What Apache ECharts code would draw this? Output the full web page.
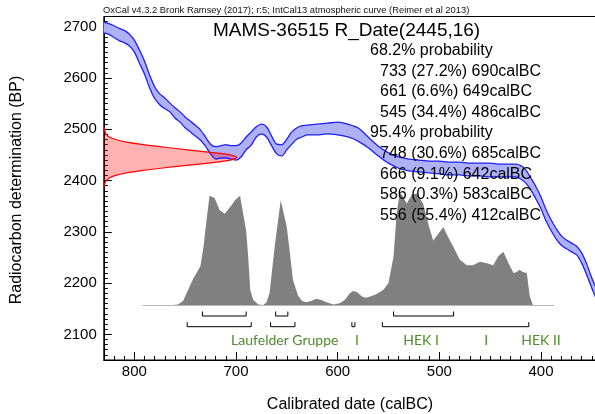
<!DOCTYPE html>
<html>
<head>
<meta charset="utf-8">
<title>MAMS-36515 R_Date(2445,16)</title>
<style>
    html,body{margin:0;padding:0;background:#fff;}
</style>
</head>
<body>
<div id="main" style="width:595px;height:414px;"></div>
<script src="https://cdn.jsdelivr.net/npm/echarts@6/dist/echarts.min.js"></script>
<script>
// IntCal13 1-sigma band (calBC -> BP)
var bandYears = [830,825,820,815,810,805,800,795,790,785,780,775,770,765,760,755,750,745,740,735,
    730,725,720,715,710,705,700,695,690,685,680,675,670,665,660,655,650,645,640,635,630,
    620,610,600,590,580,570,560,550,540,530,520,510,500,490,480,470,460,450,440,430,
    425,420,415,410,405,400,395,390,385,380,375,370,365,360,355,350,345,340];
var bandUpper = [2709,2706,2702,2697,2693,2686,2674,2655,2633,2606,2583,2569,2561,2551,2542,2534,2524,2516,2508,2499,
    2485,2471,2466,2468,2470,2468,2468,2473,2485,2495,2505,2510,2505,2487,2471,2470,2481,2495,2503,2507,2508,
    2510,2512,2514,2510,2503,2485,2467,2454,2446,2442,2440,2438,2438,2436,2436,2434,2434,2434,2432,2432,
    2432,2429,2421,2405,2388,2368,2343,2323,2306,2292,2284,2278,2272,2259,2237,2210,2187,2167];
var bandLower = [2688,2685,2679,2673,2669,2663,2651,2629,2608,2581,2560,2548,2540,2534,2522,2514,2503,2495,2487,2479,
    2467,2452,2442,2444,2444,2442,2440,2446,2460,2469,2485,2491,2485,2468,2452,2448,2460,2471,2481,2485,2489,
    2489,2491,2489,2485,2477,2464,2448,2434,2424,2419,2417,2415,2413,2411,2411,2409,2409,2407,2407,2407,
    2407,2403,2395,2382,2364,2345,2321,2302,2286,2274,2267,2261,2255,2239,2216,2190,2167,2148];

// radiocarbon measurement (relative likelihood against BP)
var dateBP = [2505,2500,2495,2490,2485,2480,2475,2470,2465,2460,2455,2450,2445,
    2440,2435,2430,2425,2420,2415,2410,2405,2400,2395,2390,2385];
var dateProb = [0,0.005,0.01,0.02,0.04,0.09,0.17,0.3,0.46,0.63,0.8,0.95,1,
    0.95,0.82,0.64,0.46,0.3,0.17,0.09,0.04,0.02,0.008,0.003,0];

// calibrated distribution
var calYears = [792,785,765,757,752,747,742,737,735,732,729,726,721,716,711,704,701,696,690,688,
    686,683,678,673,670,667,662,656,650,647,644,639,635,631,626,621,616,611,604,598,
    593,588,585,581,576,572,568,562,555,550,545,542,539,537,532,527,522,516,510,506,
    501,496,493,486,480,473,467,460,454,447,442,437,432,427,424,421,418,414,411,408,387];
var calProb = [0,0,0.003,0.01,0.04,0.14,0.24,0.32,0.35,0.52,0.76,0.98,0.96,0.85,0.82,0.9,0.94,0.98,0.67,0.44,
    0.14,0.05,0.01,0.004,0.03,0.11,0.52,0.94,0.7,0.47,0.23,0.09,0.04,0.03,0.04,0.06,0.05,0.03,0.01,0.02,
    0.05,0.11,0.13,0.12,0.08,0.07,0.08,0.1,0.14,0.2,0.44,0.82,1,0.99,0.91,0.99,1,0.91,0.7,0.58,
    0.64,0.7,0.64,0.52,0.41,0.36,0.36,0.39,0.38,0.36,0.44,0.48,0.38,0.29,0.3,0.32,0.3,0.29,0.08,0.004,0];

// ranges [from, to, percent]
var ranges68 = [[733,690,27.2],[661,649,6.6],[545,486,34.4]];
var ranges95 = [[748,685,30.6],[666,642,9.1],[586,583,0.3],[556,412,55.4]];

var periodNames = ['Laufelder Gruppe','I','HEK I','I','HEK II'];
var periodYears = [652,581,518,454,400];

var xLabels = [800,700,600,500,400];
var yLabels = [2100,2200,2300,2400,2500,2600,2700];

var FONT = '"Liberation Sans", Arial, sans-serif';
var GRID_W = 498.2, GRID_H = 343.5;

var myChart = echarts.init(document.getElementById('main'));

var textLines = ['68.2% probability'];
ranges68.forEach(function (r) { textLines.push(r[0] + ' (' + r[2] + '%) ' + r[1] + 'calBC'); });
textLines.push('95.4% probability');
ranges95.forEach(function (r) { textLines.push(r[0] + ' (' + r[2] + '%) ' + r[1] + 'calBC'); });

var graphics = [
    {type: 'text', x: 103, y: 10.5, style: {text: 'OxCal v4.3.2 Bronk Ramsey (2017); r:5; IntCal13 atmospheric curve (Reimer et al 2013)',
        font: '9.4px ' + FONT, fill: '#111', verticalAlign: 'middle'}},
    {type: 'text', x: 213, y: 31, style: {text: 'MAMS-36515 R_Date(2445,16)', font: '19px ' + FONT, fill: '#000', verticalAlign: 'middle'}},
    {type: 'text', x: 350, y: 405, style: {text: 'Calibrated date (calBC)', font: '16px ' + FONT, fill: '#000', align: 'center', verticalAlign: 'middle'}},
    {type: 'text', x: 17, y: 190, rotation: Math.PI / 2, style: {text: 'Radiocarbon determination (BP)', font: '16px ' + FONT, fill: '#000', align: 'center', verticalAlign: 'middle'}}
];
textLines.forEach(function (t, i) {
    var head = t.indexOf('probability') > 0;
    graphics.push({type: 'text', x: head ? 370 : 380, y: 50.5 + i * 20.6, z: 100,
        style: {text: t, font: '16px ' + FONT, fill: '#000', verticalAlign: 'middle'}});
});

var bracketData = [];
ranges68.forEach(function (r) { bracketData.push([r[0], r[1], 0]); });
ranges95.forEach(function (r) { bracketData.push([r[0], r[1], 1]); });

var periodData = periodYears.map(function (y, i) { return [y, 0, periodNames[i]]; });

function plain(v) { return String(v); }

myChart.setOption({
    animation: false,
    grid: {left: 103.8, right: -7, top: 16.5, bottom: 54, outerBoundsMode: 'none', containLabel: false,
        show: true, borderColor: '#000', borderWidth: 1},
    xAxis: [
        // labels + long ticks at the hundreds
        {type: 'value', position: 'bottom', inverse: true, min: 340, max: 830,
            axisLine: {show: true, onZero: false, lineStyle: {color: '#000'}},
            axisTick: {show: true, inside: true, length: 8, customValues: xLabels, lineStyle: {color: '#000', width: 1}},
            axisLabel: {show: true, customValues: xLabels, formatter: plain, color: '#000', fontSize: 15, fontFamily: FONT, margin: 4},
            splitLine: {show: false}},
        // short ticks every 10 years (top axis moved down onto the bottom line)
        {type: 'value', position: 'top', offset: -GRID_H, inverse: true, min: 340, max: 830, interval: 10,
            axisLine: {show: false, onZero: false},
            axisTick: {show: true, inside: false, length: 4, lineStyle: {color: '#000', width: 1}},
            axisLabel: {show: false}, splitLine: {show: false}},
        // likelihood scale of the measurement
        {type: 'value', position: 'top', min: 0, max: 3.75, show: false}
    ],
    yAxis: [
        {type: 'value', position: 'left', min: 2050, max: 2720,
            axisLine: {show: true, onZero: false, lineStyle: {color: '#000'}},
            axisTick: {show: true, inside: true, length: 8, customValues: yLabels, lineStyle: {color: '#000', width: 1}},
            axisLabel: {show: true, customValues: yLabels, formatter: plain, color: '#000', fontSize: 15, fontFamily: FONT, margin: 7},
            splitLine: {show: false}},
        // short ticks every 10 BP (right axis moved onto the left line)
        {type: 'value', position: 'right', offset: -GRID_W, min: 2050, max: 2720, interval: 10,
            axisLine: {show: false, onZero: false},
            axisTick: {show: true, inside: false, length: 4, lineStyle: {color: '#000', width: 1}},
            axisLabel: {show: false}, splitLine: {show: false}},
        // probability scale of the calibrated distribution
        {type: 'value', position: 'right', min: -0.4866, max: 2.5804, show: false}
    ],
    series: [
        {
            type: 'custom', xAxisIndex: 0, yAxisIndex: 0, silent: true,
            data: [[bandYears[0], bandUpper[0]]],
            renderItem: function (params, api) {
                var pts = [];
                for (var i = 0; i < bandYears.length; i++) pts.push(api.coord([bandYears[i], bandUpper[i]]));
                for (var j = bandYears.length - 1; j >= 0; j--) pts.push(api.coord([bandYears[j], bandLower[j]]));
                return {type: 'polygon', shape: {points: pts}, style: {fill: '#aeb1f6'}};
            }
        },
        {type: 'line', xAxisIndex: 0, yAxisIndex: 0, symbol: 'none', smooth: 0.3,
            lineStyle: {color: '#1f1fff', width: 1.3},
            data: bandYears.map(function (y, i) { return [y, bandUpper[i]]; })},
        {type: 'line', xAxisIndex: 0, yAxisIndex: 0, symbol: 'none', smooth: 0.3,
            lineStyle: {color: '#1f1fff', width: 1.3},
            data: bandYears.map(function (y, i) { return [y, bandLower[i]]; })},
        {
            type: 'custom', xAxisIndex: 2, yAxisIndex: 0, silent: true,
            data: [[dateProb[0], dateBP[0]]],
            renderItem: function (params, api) {
                var pts = dateBP.map(function (b, i) { return api.coord([dateProb[i], b]); });
                return {type: 'polygon', shape: {points: pts, smooth: 0.3}, style: {fill: 'rgba(255,0,0,0.3)'}};
            }
        },
        {type: 'line', xAxisIndex: 2, yAxisIndex: 0, symbol: 'none', smooth: 0.3,
            lineStyle: {color: '#ff0000', width: 1.2},
            data: dateBP.map(function (b, i) { return [dateProb[i], b]; })},
        {type: 'line', xAxisIndex: 0, yAxisIndex: 2, symbol: 'none',
            lineStyle: {width: 0},
            areaStyle: {color: '#808080', opacity: 1, origin: 0},
            data: calYears.map(function (y, i) { return [y, calProb[i]]; })},
        {type: 'line', xAxisIndex: 0, yAxisIndex: 2, symbol: 'none',
            lineStyle: {color: '#b8b8b8', width: 1},
            data: [[calYears[0], 0], [calYears[calYears.length - 1], 0]]},
        {
            type: 'custom', xAxisIndex: 0, yAxisIndex: 2, silent: true,
            data: bracketData,
            renderItem: function (params, api) {
                var a = api.coord([api.value(0), 0]);
                var b = api.coord([api.value(1), 0]);
                var y = a[1] + (api.value(2) === 0 ? 10.5 : 21.2);
                return {type: 'polyline', shape: {points: [[a[0], y - 4.5], [a[0], y], [b[0], y], [b[0], y - 4.5]]},
                    style: {stroke: '#000', lineWidth: 1, fill: null}};
            }
        },
        {
            type: 'custom', xAxisIndex: 0, yAxisIndex: 2, silent: true,
            data: periodData,
            renderItem: function (params, api) {
                var p = api.coord([api.value(0), 0]);
                return {type: 'text', x: p[0], y: p[1] + 34.5,
                    style: {text: periodNames[params.dataIndex], font: '14px Lato, "Open Sans", sans-serif', fill: '#4e8b2a',
                        align: 'center', verticalAlign: 'middle'}};
            }
        }
    ],
    graphic: graphics
});
</script>
</body>
</html>
